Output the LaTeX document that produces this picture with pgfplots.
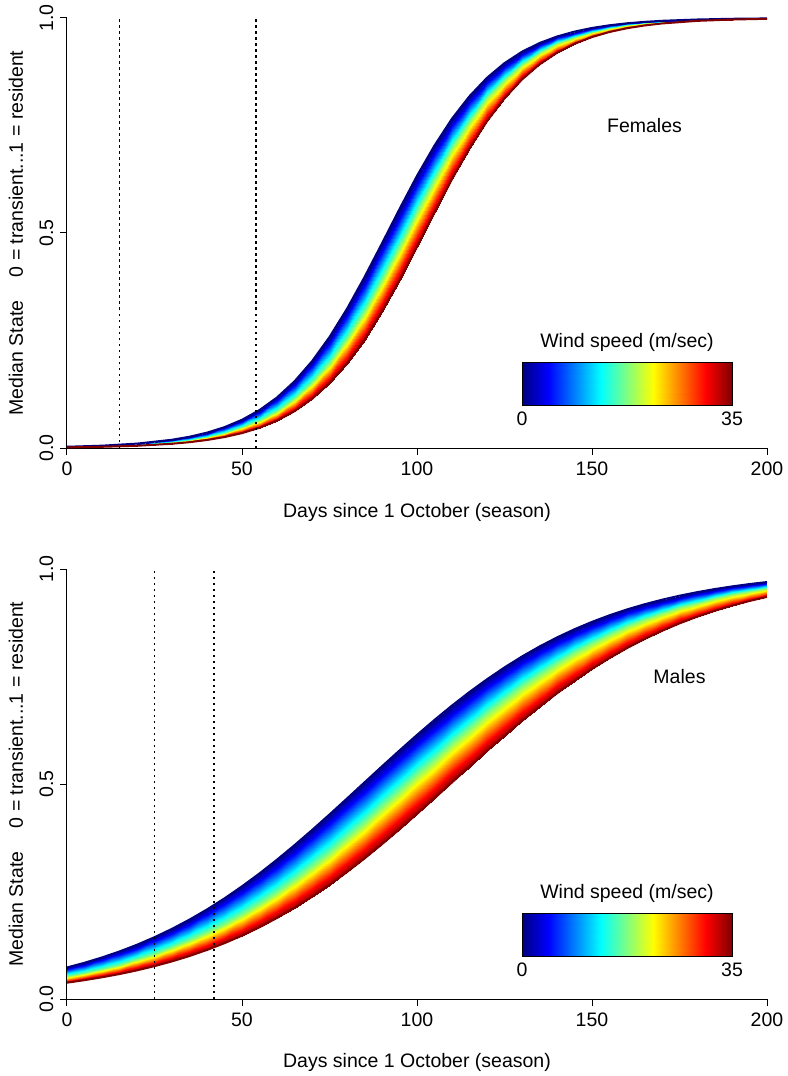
\documentclass[border=0pt]{standalone}
\usepackage{fontspec}
\setmainfont{Liberation Sans}
\usepackage{pgfplots}
\usepackage{pgfplotstable}
\pgfplotsset{compat=1.18}

\definecolor{jetlo}{RGB}{0,0,128}
\definecolor{jethi}{RGB}{128,0,0}

% scanlines: wind 0, 17.5, 35 (35 points each)
\pgfplotstableread{
x y w
0 0.0029 0
10 0.0054 0
20 0.0102 0
30 0.0192 0
35 0.0262 0
40 0.0357 0
45 0.0485 0
50 0.0656 0
55 0.0882 0
60 0.1175 0
65 0.1550 0
70 0.2017 0
75 0.2581 0
80 0.3238 0
85 0.3975 0
90 0.4760 0
95 0.5558 0
100 0.6330 0
105 0.7035 0
110 0.7660 0
115 0.8182 0
120 0.8610 0
125 0.8951 0
130 0.9216 0
135 0.9418 0
140 0.9570 0
145 0.9684 0
150 0.9769 0
155 0.9831 0
160 0.9877 0
165 0.9910 0
170 0.9935 0
180 0.9965 0
190 0.9982 0
200 0.9990 0
0 0.0020 17.5
10 0.0039 17.5
20 0.0073 17.5
30 0.0138 17.5
35 0.0188 17.5
40 0.0258 17.5
45 0.0352 17.5
50 0.0478 17.5
55 0.0646 17.5
60 0.0869 17.5
65 0.1159 17.5
70 0.1529 17.5
75 0.1991 17.5
80 0.2550 17.5
85 0.3204 17.5
90 0.3937 17.5
95 0.4720 17.5
100 0.5518 17.5
105 0.6290 17.5
110 0.7001 17.5
115 0.7628 17.5
120 0.8158 17.5
125 0.8591 17.5
130 0.8936 17.5
135 0.9204 17.5
140 0.9409 17.5
145 0.9564 17.5
150 0.9680 17.5
155 0.9765 17.5
160 0.9828 17.5
165 0.9875 17.5
170 0.9909 17.5
180 0.9952 17.5
190 0.9975 17.5
200 0.9987 17.5
0 0.0015 35
10 0.0028 35
20 0.0052 35
30 0.0099 35
35 0.0135 35
40 0.0186 35
45 0.0254 35
50 0.0346 35
55 0.0471 35
60 0.0637 35
65 0.0856 35
70 0.1143 35
75 0.1509 35
80 0.1965 35
85 0.2520 35
90 0.3170 35
95 0.3899 35
100 0.4680 35
105 0.5479 35
110 0.6253 35
115 0.6968 35
120 0.7600 35
125 0.8133 35
130 0.8570 35
135 0.8921 35
140 0.9192 35
145 0.9400 35
150 0.9557 35
155 0.9675 35
160 0.9762 35
165 0.9826 35
170 0.9873 35
180 0.9933 35
190 0.9964 35
200 0.9981 35
}\females

% scanlines: wind 0, 17.5, 35 (41 points each)
\pgfplotstableread{
x y w
0 0.0734 0
5 0.0843 0
10 0.0967 0
15 0.1106 0
20 0.1262 0
25 0.1437 0
30 0.1632 0
35 0.1847 0
40 0.2083 0
45 0.2341 0
50 0.2621 0
55 0.2921 0
60 0.3241 0
65 0.3578 0
70 0.3929 0
75 0.4292 0
80 0.4663 0
85 0.5038 0
90 0.5412 0
95 0.5781 0
100 0.6142 0
105 0.6491 0
110 0.6825 0
115 0.7141 0
120 0.7436 0
125 0.7712 0
130 0.7966 0
135 0.8198 0
140 0.8409 0
145 0.8600 0
150 0.8771 0
155 0.8924 0
160 0.9060 0
165 0.9180 0
170 0.9286 0
175 0.9379 0
180 0.9461 0
185 0.9533 0
190 0.9595 0
195 0.9650 0
200 0.9697 0
0 0.0529 17.5
5 0.0608 17.5
10 0.0699 17.5
15 0.0802 17.5
20 0.0919 17.5
25 0.1051 17.5
30 0.1199 17.5
35 0.1365 17.5
40 0.1550 17.5
45 0.1755 17.5
50 0.1981 17.5
55 0.2228 17.5
60 0.2496 17.5
65 0.2785 17.5
70 0.3094 17.5
75 0.3420 17.5
80 0.3761 17.5
85 0.4117 17.5
90 0.4482 17.5
95 0.4851 17.5
100 0.5222 17.5
105 0.5592 17.5
110 0.5956 17.5
115 0.6307 17.5
120 0.6646 17.5
125 0.6970 17.5
130 0.7275 17.5
135 0.7559 17.5
140 0.7823 17.5
145 0.8066 17.5
150 0.8288 17.5
155 0.8488 17.5
160 0.8669 17.5
165 0.8832 17.5
170 0.8977 17.5
175 0.9106 17.5
180 0.9219 17.5
185 0.9320 17.5
190 0.9408 17.5
195 0.9486 17.5
200 0.9554 17.5
0 0.0380 35
5 0.0438 35
10 0.0505 35
15 0.0580 35
20 0.0666 35
25 0.0764 35
30 0.0875 35
35 0.0999 35
40 0.1141 35
45 0.1298 35
50 0.1474 35
55 0.1669 35
60 0.1885 35
65 0.2120 35
70 0.2378 35
75 0.2655 35
80 0.2953 35
85 0.3268 35
90 0.3601 35
95 0.3946 35
100 0.4305 35
105 0.4668 35
110 0.5037 35
115 0.5405 35
120 0.5769 35
125 0.6124 35
130 0.6468 35
135 0.6797 35
140 0.7109 35
145 0.7402 35
150 0.7676 35
155 0.7929 35
160 0.8161 35
165 0.8372 35
170 0.8563 35
175 0.8735 35
180 0.8890 35
185 0.9027 35
190 0.9149 35
195 0.9257 35
200 0.9352 35
}\males

% colour key box
\pgfplotstableread{
x y w
130 0.1 0
190 0.1 35
130 0.2 0
190 0.2 35
}\key

\pgfplotsset{
  rplot/.style={
    scale only axis, width=700pt, height=430pt,
    xmin=0, xmax=200, ymin=0, ymax=1,
    axis x line*=bottom, axis y line*=left,
    axis line style={-, line width=1pt},
    tick align=outside, major tick length=7pt,
    tick style={black, line width=1pt},
    xtick={0,50,100,150,200}, xticklabels={0,50,100,150,200},
    ytick={0,0.5,1}, yticklabels={0.0,0.5,1.0},
    yticklabel style={rotate=90, anchor=south},
    xlabel={Days since 1 October (season)},
    ylabel={Median State\hspace{1.2em}0 = transient...1 = resident},
    every axis x label/.style={at={(axis description cs:0.5,0)}, anchor=base, yshift=-69pt},
    every axis y label/.style={at={(axis description cs:-0.0729,0.5)}, rotate=90, anchor=center},
    colormap/jet, point meta min=0, point meta max=35,
  },
  dots/.style={black, line width=1.8pt, dash pattern=on 2.5pt off 3.5pt, forget plot},
  band/.style={surf, shader=interp, point meta=\thisrow{w}, forget plot},
  edge/.style={line width=2pt, forget plot},
}

\begin{document}
\fontsize{19.5}{23.4}\selectfont
\begin{tikzpicture}
\useasboundingbox (-67pt,-628pt) rectangle (720pt,448pt);

% ---------------- Females ----------------
\begin{axis}[rplot, at={(0pt,0pt)}, anchor=south west]
\addplot[band, mesh/cols=35] table \females;
\addplot[edge, jetlo] table[skip coords between index={35}{105}] \females;
\addplot[edge, jethi] table[skip coords between index={0}{70}] \females;
\addplot[dots] coordinates {(15,0) (15,1)};
\addplot[dots] coordinates {(54,0) (54,1)};
\addplot[band, mesh/cols=2] table \key;
\draw[black, line width=0.8pt] (axis cs:130,0.1) rectangle (axis cs:190,0.2);
\node[anchor=south, yshift=4pt] at (axis cs:160,0.2) {Wind speed (m/sec)};
\node[anchor=north] at (axis cs:130,0.1) {0};
\node[anchor=north] at (axis cs:190,0.1) {35};
\node at (axis cs:165,0.75) {Females};
\end{axis}

% ---------------- Males ----------------
\begin{axis}[rplot, at={(0pt,-551pt)}, anchor=south west,
  every axis x label/.style={at={(axis description cs:0.5,0)}, anchor=base, yshift=-68pt}]
\addplot[band, mesh/cols=41] table \males;
\addplot[edge, jetlo] table[skip coords between index={41}{123}] \males;
\addplot[edge, jethi] table[skip coords between index={0}{82}] \males;
\addplot[dots] coordinates {(25,0) (25,1)};
\addplot[dots] coordinates {(42,0) (42,1)};
\addplot[band, mesh/cols=2] table \key;
\draw[black, line width=0.8pt] (axis cs:130,0.1) rectangle (axis cs:190,0.2);
\node[anchor=south, yshift=4pt] at (axis cs:160,0.2) {Wind speed (m/sec)};
\node[anchor=north] at (axis cs:130,0.1) {0};
\node[anchor=north] at (axis cs:190,0.1) {35};
\node at (axis cs:175,0.75) {Males};
\end{axis}
\end{tikzpicture}
\end{document}
